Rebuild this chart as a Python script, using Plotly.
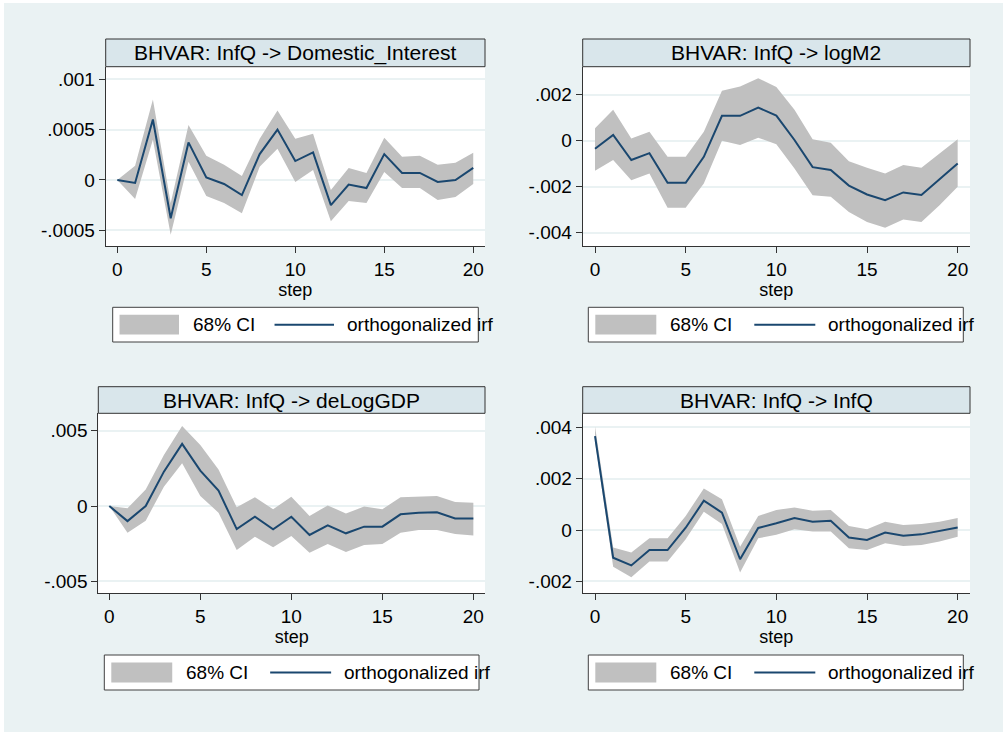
import plotly.graph_objects as go

# impulse responses, steps 0..20
steps = list(range(21))

titles = [
    "BHVAR: InfQ -> Domestic_Interest",
    "BHVAR: InfQ -> logM2",
    "BHVAR: InfQ -> deLogGDP",
    "BHVAR: InfQ -> InfQ",
]

irf_interest = [0.0, -0.00003, 0.0006, -0.00038, 0.000373, 0.000026, -0.00004, -0.00015,
                0.000257, 0.0005, 0.000188, 0.000274, -0.00025, -0.000046, -0.00008,
                0.000257, 0.00007, 0.00007, -0.00002, 0.0, 0.00012]
hi_interest = [0.0, 0.00014, 0.0008, -0.00023, 0.000545, 0.00024, 0.00015, 0.00004,
               0.00041, 0.00069, 0.00041, 0.00046, -0.0001, 0.00012, 0.00007,
               0.00042, 0.00023, 0.00024, 0.00015, 0.00017, 0.00027]
lo_interest = [0.0, -0.00019, 0.0004, -0.000545, 0.00018, -0.00016, -0.00023, -0.00033,
               0.00013, 0.00031, -0.00002, 0.0001, -0.00041, -0.00021, -0.00023,
               0.00008, -0.00008, -0.00008, -0.0002, -0.00017, -0.00004]

irf_m2 = [-0.00035, 0.00025, -0.00084, -0.00054, -0.00183, -0.00183, -0.0007, 0.00108,
          0.00108, 0.00144, 0.00109, 0.00003, -0.00115, -0.00127, -0.00195, -0.00234,
          -0.00259, -0.00225, -0.00236, -0.00166, -0.00099]
hi_m2 = [0.00054, 0.00134, 0.0001, 0.00039, -0.0007, -0.0007, 0.00039, 0.00217,
         0.00236, 0.00272, 0.00233, 0.00134, 0.00006, -0.00009, -0.00089, -0.00118,
         -0.00143, -0.00106, -0.00118, -0.00055, 0.00006]
lo_m2 = [-0.00131, -0.00084, -0.00172, -0.00143, -0.00292, -0.00292, -0.00186, 0.0,
         -0.00019, 0.00013, -0.00015, -0.00121, -0.00237, -0.00244, -0.0031, -0.00353,
         -0.00378, -0.00343, -0.00353, -0.00281, -0.002]

irf_gdp = [0.0, -0.001, 0.0, 0.00228, 0.00412, 0.00235, 0.00102, -0.00153, -0.00071,
           -0.00155, -0.00071, -0.00192, -0.00128, -0.00181, -0.00137, -0.00137,
           -0.00055, -0.00044, -0.00042, -0.00082, -0.00082]
hi_gdp = [0.0, -0.00015, 0.0011, 0.00339, 0.00531, 0.00405, 0.00243, -0.00009, 0.00058,
          -0.00022, 0.00062, -0.00066, 0.00004, -0.00049, -0.00004, -0.00022,
          0.00058, 0.00062, 0.00066, 0.00027, 0.00022]
lo_gdp = [0.0, -0.00177, -0.00097, 0.00128, 0.00283, 0.00066, -0.00044, -0.00292,
          -0.00204, -0.00274, -0.00199, -0.0031, -0.00252, -0.00305, -0.00259, -0.00252,
          -0.00177, -0.00159, -0.00159, -0.00186, -0.00195]

irf_infq = [0.00366, -0.00108, -0.00138, -0.00078, -0.00078, 0.00009, 0.00114, 0.00068,
            -0.00114, 0.00008, 0.00026, 0.00047, 0.00032, 0.00036, -0.00029, -0.00039,
            -0.0001, -0.00022, -0.00017, -0.00003, 0.0001]
hi_infq = [0.00403, -0.00068, -0.00088, -0.00032, -0.00032, 0.00055, 0.00162, 0.0012,
           -0.00065, 0.00055, 0.00078, 0.00088, 0.00075, 0.00078, 0.00016, 0.00003,
           0.00032, 0.00019, 0.00023, 0.00032, 0.00047]
lo_infq = [0.00344, -0.00143, -0.00184, -0.00123, -0.00123, -0.00036, 0.00071, 0.00023,
           -0.00166, -0.00032, -0.00019, 0.00003, -0.00006, -0.00006, -0.00071, -0.00078,
           -0.00052, -0.00062, -0.00058, -0.00045, -0.00026]

x_ticks = [0, 5, 10, 15, 20]
y_ticks = [
    [-0.0005, 0, 0.0005, 0.001],
    [-0.004, -0.002, 0, 0.002],
    [-0.005, 0, 0.005],
    [-0.002, 0, 0.002, 0.004],
]
y_ticktext = [
    ["-.0005", "0", ".0005", ".001"],
    ["-.004", "-.002", "0", ".002"],
    ["-.005", "0", ".005"],
    ["-.002", "0", ".002", ".004"],
]

series = [
    (irf_interest, hi_interest, lo_interest),
    (irf_m2, hi_m2, lo_m2),
    (irf_gdp, hi_gdp, lo_gdp),
    (irf_infq, hi_infq, lo_infq),
]

W, H = 1003, 732
BG = "#eaf2f3"
NAVY = "#1a476f"
CI = "#c0c0c0"
FONT = "Liberation Sans, Arial, sans-serif"

# pixel boxes for each panel: plot left/right/top/bottom, title top, legend box
panels = [
    dict(l=105.7, r=485, t=66.7, b=246, tt=39, yr=[-0.000656, 0.001125], xr=[-0.652, 20.66],
         lg=(112.7, 478.3, 307.3, 342)),
    dict(l=582.7, r=970, t=66.7, b=246, tt=39, yr=[-0.004578, 0.003217], xr=[-0.68, 20.68],
         lg=(588.3, 963.3, 307.3, 342)),
    dict(l=98.3, r=485, t=413.3, b=593.3, tt=386.7, yr=[-0.00579, 0.00615], xr=[-0.604, 20.64],
         lg=(104.3, 479, 655, 690)),
    dict(l=582.7, r=970, t=413.3, b=593.3, tt=386.7, yr=[-0.002466, 0.004546], xr=[-0.68, 20.68],
         lg=(588.3, 963.3, 655, 690)),
]


def fx(p):
    return p / W


def fy(p):
    return 1 - p / H


fig = go.Figure()
shapes = [dict(type="rect", xref="paper", yref="paper", x0=fx(4), x1=1, y0=0, y1=fy(3),
               fillcolor=BG, line=dict(width=0), layer="below")]
annotations = []

for i, (p, (irf, hi, lo)) in enumerate(zip(panels, series)):
    n = "" if i == 0 else str(i + 1)
    fig.add_trace(go.Scatter(
        x=steps + steps[::-1], y=hi + lo[::-1], fill="toself", fillcolor=CI,
        line=dict(width=0), mode="lines", name="68% CI", showlegend=False,
        xaxis="x" + n, yaxis="y" + n, hoverinfo="skip"))
    fig.add_trace(go.Scatter(
        x=steps, y=irf, mode="lines", name="orthogonalized irf", showlegend=False,
        line=dict(color=NAVY, width=2), xaxis="x" + n, yaxis="y" + n))

    fig.layout["xaxis" + n] = dict(
        domain=[fx(p["l"]), fx(p["r"])], range=p["xr"], anchor="y" + n,
        tickvals=x_ticks, ticks="outside", ticklen=6, tickcolor="#333",
        showline=True, linecolor="#333", linewidth=1, showgrid=False, zeroline=False,
        tickfont=dict(family=FONT, size=19, color="black"),
        title=dict(text="step", font=dict(family=FONT, size=18, color="black"), standoff=0))
    fig.layout["yaxis" + n] = dict(
        domain=[fy(p["b"]), fy(p["t"])], range=p["yr"], anchor="x" + n,
        tickvals=y_ticks[i], ticktext=y_ticktext[i], ticks="outside", ticklen=6,
        tickcolor="#333", showline=True, linecolor="#333", linewidth=1,
        showgrid=True, gridcolor=BG, gridwidth=2, zeroline=False,
        tickfont=dict(family=FONT, size=19, color="black"))

    # white plot region
    shapes.append(dict(type="rect", xref="paper", yref="paper",
                       x0=fx(p["l"]), x1=fx(p["r"]), y0=fy(p["b"]), y1=fy(p["t"]),
                       fillcolor="white", line=dict(width=0), layer="below"))
    # subtitle box
    shapes.append(dict(type="rect", xref="paper", yref="paper",
                       x0=fx(p["l"]), x1=fx(p["r"]), y0=fy(p["t"]), y1=fy(p["tt"]),
                       fillcolor="#d9e6eb", line=dict(color="#333", width=1)))
    annotations.append(dict(xref="paper", yref="paper", x=fx((p["l"] + p["r"]) / 2),
                            y=fy((p["t"] + p["tt"]) / 2), text=titles[i], showarrow=False,
                            xanchor="center", yanchor="middle",
                            font=dict(family=FONT, size=21, color="black")))

    # legend box
    l0, l1, t0, t1 = p["lg"]
    s = (l1 - l0) / 375.0
    ym = (t0 + t1) / 2
    shapes.append(dict(type="rect", xref="paper", yref="paper", x0=fx(l0), x1=fx(l1),
                       y0=fy(t1), y1=fy(t0), fillcolor="white",
                       line=dict(color="#404040", width=1)))
    shapes.append(dict(type="rect", xref="paper", yref="paper",
                       x0=fx(l0 + 7 * s), x1=fx(l0 + 68 * s), y0=fy(t1 - 7.5), y1=fy(t0 + 7.5),
                       fillcolor=CI, line=dict(width=0)))
    shapes.append(dict(type="line", xref="paper", yref="paper",
                       x0=fx(l0 + 166 * s), x1=fx(l0 + 227 * s), y0=fy(ym), y1=fy(ym),
                       line=dict(color=NAVY, width=2)))
    annotations.append(dict(xref="paper", yref="paper", x=fx(l0 + 80 * s), y=fy(ym),
                            text="68% CI", showarrow=False, xanchor="left", yanchor="middle",
                            font=dict(family=FONT, size=19, color="black")))
    annotations.append(dict(xref="paper", yref="paper", x=fx(l0 + 238 * s), y=fy(ym),
                            text="orthogonalized irf", showarrow=False, xanchor="left",
                            yanchor="middle", font=dict(family=FONT, size=19, color="black")))

fig.update_layout(
    width=W, height=H, margin=dict(l=0, r=0, t=0, b=0),
    paper_bgcolor="white", plot_bgcolor="rgba(0,0,0,0)",
    shapes=shapes, annotations=annotations, showlegend=False,
    font=dict(family=FONT),
)

fig.write_html("out.html", config={"displayModeBar": False},
               post_script="document.body.style.margin='0';")
